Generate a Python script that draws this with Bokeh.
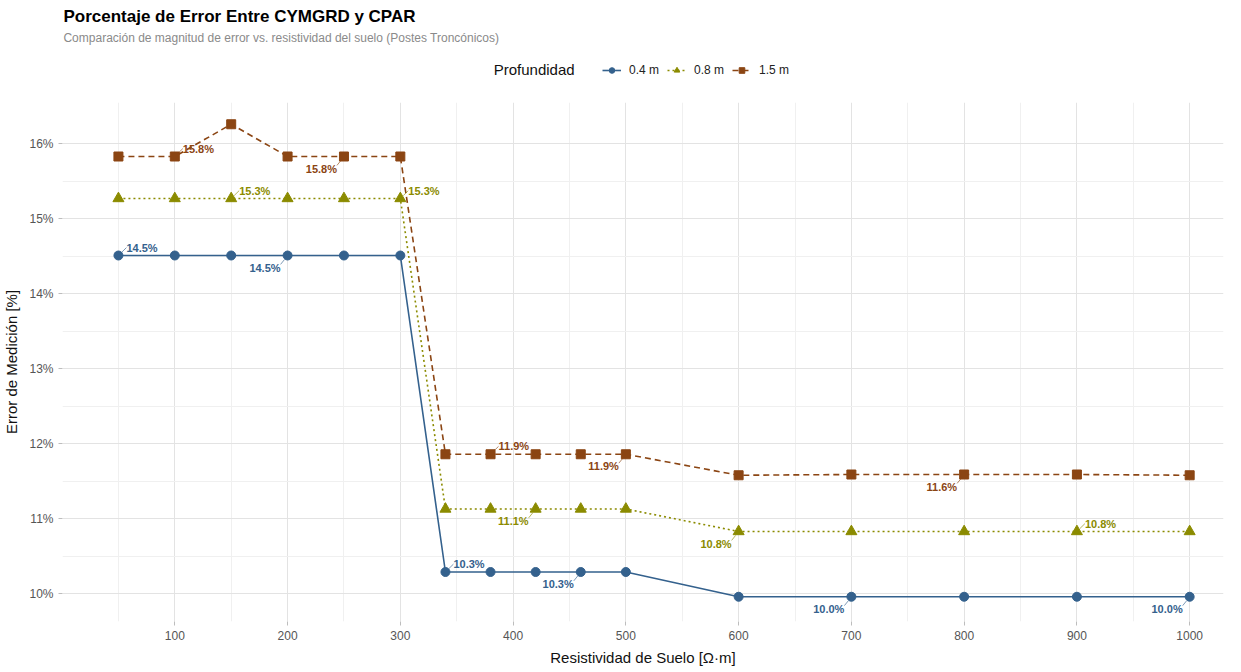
from bokeh.plotting import figure
from bokeh.layouts import column
from bokeh.models import (Range1d, FixedTicker, PrintfTickFormatter, Legend, LegendItem,
                          ColumnDataSource, Label)
from bokeh.embed import file_html
from bokeh.resources import INLINE
from bokeh.core.properties import value

# ---- data ----
resistividad = [50, 100, 150, 200, 250, 300, 340, 380, 420, 460, 500, 600, 700, 800, 900, 1000]
error_04 = [14.51, 14.51, 14.51, 14.51, 14.51, 14.51, 10.29, 10.29, 10.29, 10.29, 10.29,
            9.96, 9.96, 9.96, 9.96, 9.96]
error_08 = [15.27, 15.27, 15.27, 15.27, 15.27, 15.27, 11.13, 11.13, 11.13, 11.13, 11.13,
            10.83, 10.83, 10.83, 10.83, 10.83]
error_15 = [15.83, 15.83, 16.26, 15.83, 15.83, 15.83, 11.86, 11.86, 11.86, 11.86, 11.86,
            11.58, 11.59, 11.59, 11.59, 11.58]
series_names = ["0.4 m", "0.8 m", "1.5 m"]
x_ticks = [100, 200, 300, 400, 500, 600, 700, 800, 900, 1000]
y_ticks = [10, 11, 12, 13, 14, 15, 16]
title_text = "Porcentaje de Error Entre CYMGRD y CPAR"
subtitle_text = "Comparación de magnitud de error vs. resistividad del suelo (Postes Troncónicos)"
legend_title = "Profundidad"

# labelled points: (series index, x value, side)  ur = upper right, ll = lower left
label_points = [
    (0, 50, "ur"), (0, 200, "ll"), (0, 340, "ur"), (0, 460, "ll"), (0, 700, "ll"), (0, 1000, "ll"),
    (1, 150, "ur"), (1, 300, "ur"), (1, 420, "ll"), (1, 600, "ll"), (1, 900, "ur"),
    (2, 100, "ur"), (2, 250, "ll"), (2, 380, "ur"), (2, 500, "ll"), (2, 800, "ll"),
]

colors = ["#34618D", "#8B8B00", "#8B4513"]
dashes = ["solid", "2 3", "6 4"]
markers = ["circle", "triangle", "square"]
msizes = [9, 11, 9]
FONT = "Liberation Sans"
W = 1225
HH = 98
MH = 570
all_series = [error_04, error_08, error_15]

# ---------------- header (titles + legend) ----------------
# header uses a pixel-like coordinate system placed far away from the data values,
# so the legend proxy renderers (real series data) stay out of view
HY0 = 100
h = figure(width=W, height=HH, output_backend="svg", toolbar_location=None,
           x_range=Range1d(0, W), y_range=Range1d(HY0, HY0 + HH),
           min_border_left=0, min_border_right=0, min_border_top=0, min_border_bottom=0)
h.axis.visible = False
h.grid.visible = False
h.outline_line_color = None
h.add_layout(Label(x=1, y=HY0 + HH - 16, text=title_text, text_font=FONT, text_font_size="17px",
                   text_font_style="bold", text_color="#000000", text_baseline="middle"))
h.add_layout(Label(x=1, y=HY0 + HH - 37, text=subtitle_text, text_font=FONT, text_font_size="12px",
                   text_color="#8A8A8A", text_baseline="middle"))
h.add_layout(Label(x=455, y=HY0 + HH - 69, text=legend_title, text_font=FONT, text_font_size="15px",
                   text_color="#111111", text_baseline="middle"))
leg_items = []
for i, ys in enumerate(all_series):
    ln = h.line(resistividad, ys, line_color=colors[i], line_width=1.6, line_dash=dashes[i])
    sc = h.scatter(resistividad, ys, marker=markers[i], size=msizes[i], fill_color=colors[i],
                   line_color=colors[i])
    leg_items.append(LegendItem(label=series_names[i], renderers=[ln, sc]))
legend = Legend(items=leg_items, orientation="horizontal", location=(540, 21),
                label_text_font=FONT, label_text_font_size="12px", label_text_color="#222222",
                glyph_width=19, glyph_height=14, label_standoff=8, spacing=8,
                border_line_color=None, background_fill_alpha=0, padding=2, margin=0)
h.add_layout(legend, "center")

# ---------------- main plot ----------------
x0, x1 = 0.4, 1030
y0, y1 = 9.63, 16.55
sx = 1.128
sy = 76.0

p = figure(width=W, height=MH, output_backend="svg", toolbar_location=None,
           x_range=Range1d(x0, x1), y_range=Range1d(y0, y1),
           min_border_left=4, min_border_right=2, min_border_top=4, min_border_bottom=4)
p.outline_line_color = None
p.background_fill_color = "white"
p.border_fill_color = "white"

p.xaxis.ticker = FixedTicker(ticks=x_ticks, minor_ticks=[50 + 100 * i for i in range(10)])
p.yaxis.ticker = FixedTicker(ticks=y_ticks, minor_ticks=[10.5 + i for i in range(6)])
p.yaxis.formatter = PrintfTickFormatter(format="%d%%")
for ax in (p.xaxis, p.yaxis):
    ax.axis_line_color = None
    ax.major_tick_line_color = "#BDBDBD"
    ax.major_tick_in = 0
    ax.major_tick_out = 4
    ax.minor_tick_line_color = None
    ax.major_label_text_font = FONT
    ax.major_label_text_font_size = "12px"
    ax.major_label_text_color = "#555555"
    ax.axis_label_text_font = FONT
    ax.axis_label_text_font_size = "15px"
    ax.axis_label_text_font_style = "normal"
    ax.axis_label_text_color = "#111111"
p.xaxis.axis_label = "Resistividad de Suelo [Ω·m]"
p.yaxis.axis_label = "Error de Medición [%]"
p.xaxis.axis_label_standoff = 6
p.yaxis.axis_label_standoff = 6

for g in (p.xgrid, p.ygrid):
    g.grid_line_color = "#E3E3E3"
    g.grid_line_width = 1
    g.minor_grid_line_color = "#F0F0F0"
    g.minor_grid_line_width = 1

for i, ys in enumerate(all_series):
    src = ColumnDataSource(dict(x=resistividad, y=ys))
    p.line("x", "y", source=src, line_color=colors[i], line_width=1.6, line_dash=dashes[i])
    p.scatter("x", "y", source=src, marker=markers[i], size=msizes[i],
              fill_color=colors[i], line_color=colors[i])

# data labels with short leader segments
for i, ys in enumerate(all_series):
    lx, ly, lt, align, xo, yo = [], [], [], [], [], []
    sgx0, sgy0, sgx1, sgy1 = [], [], [], []
    for (si, xv, side) in label_points:
        if si != i:
            continue
        yv = ys[resistividad.index(xv)]
        lx.append(xv); ly.append(yv); lt.append(f"{yv:.1f}%")
        if side == "ur":
            align.append("left"); xo.append(8); yo.append(-8)
            sgx0.append(xv + 3 / sx); sgy0.append(yv + 3 / sy)
            sgx1.append(xv + 8 / sx); sgy1.append(yv + 8 / sy)
        else:
            align.append("right"); xo.append(-7); yo.append(12)
            sgx0.append(xv - 3 / sx); sgy0.append(yv - 4 / sy)
            sgx1.append(xv - 7 / sx); sgy1.append(yv - 9 / sy)
    p.segment(sgx0, sgy0, sgx1, sgy1, line_color=colors[i], line_width=0.8, line_alpha=0.8)
    src = ColumnDataSource(dict(x=lx, y=ly, t=lt, a=align, xo=xo, yo=yo))
    p.text("x", "y", text="t", source=src, text_align="a", x_offset="xo", y_offset="yo",
           text_baseline="middle", text_color=colors[i], text_font=value(FONT),
           text_font_size="11px", text_font_style="bold")

layout = column(h, p, spacing=0)
open("out.html", "w").write(file_html(layout, INLINE))
